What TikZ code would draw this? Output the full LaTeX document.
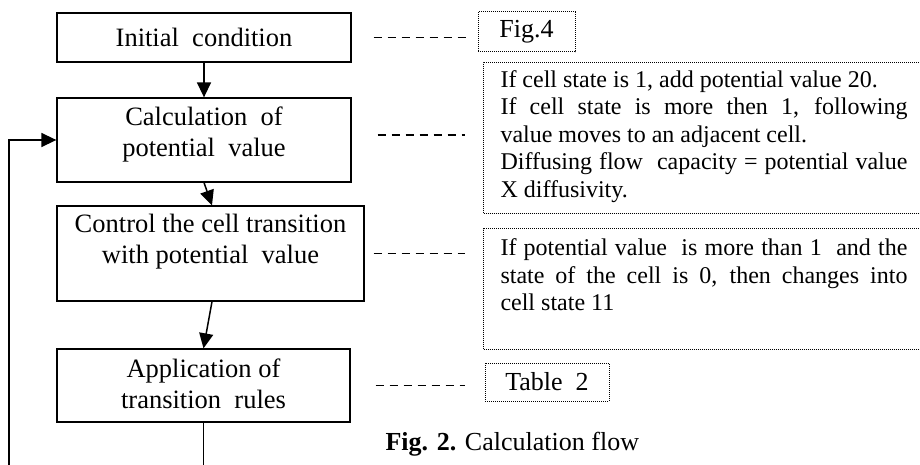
\documentclass[tikz,border=0pt]{standalone}
\usepackage{fontspec}
\setmainfont{Liberation Serif}
\usetikzlibrary{arrows.meta}
\tolerance=10000
\hbadness=10000

\begin{document}
\begin{tikzpicture}[x=1pt,y=-1pt,
  stepbox/.style={draw,line width=1.3pt,align=center,inner sep=0pt,font=\fontsize{26.5}{31}\selectfont},
  notebox/.style={draw,line width=1pt,dash pattern=on 1pt off 1pt,inner sep=0pt,font=\fontsize{26}{30}\selectfont},
  ruletext/.style={notebox,anchor=north west,inner xsep=17pt,text width=407pt,align=justify,font=\fontsize{24}{27.5}\selectfont},
  flow/.style={line width=1.5pt,-{Triangle[length=15pt,width=14pt]}},
  leader/.style={line width=1.5pt,dash pattern=on 8pt off 6pt}]

\useasboundingbox (0,0) rectangle (920,465);

%flow boxes
\node[stepbox,minimum width=294pt,minimum height=49pt] (init) at (204,37.5) {Initial~~condition};
\node[stepbox,minimum width=294pt,text height=59pt,text depth=25pt] (calc) at (204,140) {Calculation~~of\\potential~~value};
\node[stepbox,minimum width=307pt,text height=57pt,text depth=38pt] (ctrl) at (210.5,253.5) {Control the cell transition\\with potential~~value};
\node[stepbox,minimum width=293pt,text height=59pt,text depth=14pt] (appl) at (203.5,385.5) {Application of\\transition~~rules};

%arrows
\draw[flow] (init) -- (calc);
\draw[flow] (calc.south) -- ([xshift=1.5pt]ctrl.north);
\draw[flow] ([xshift=1.5pt]ctrl.south) -- (appl.north);
\coordinate (loop) at (9,465);
\draw[line width=1.5pt] (appl.south) -- (appl.south |- loop);
\draw[flow] (loop) |- (calc.west); %back loop

%notes on the right
\node[notebox,minimum width=97pt,minimum height=40pt] (fig) at (526.5,32) {Fig.4};
\node[ruletext,text height=25pt,text depth=126pt] (pot) at (483,62) {If cell state is 1, add potential value 20.\par
If cell state is more then 1, following \linebreak value moves to an adjacent cell.\par
Diffusing flow~~capacity = potential value \linebreak X diffusivity.};
\node[ruletext,text height=27pt,text depth=94pt] (trans) at (483,228) {If potential value~~is more than 1~~and the \linebreak state of the cell is 0, then changes into \linebreak cell state 11};
\node[notebox,minimum width=124pt,minimum height=38pt] (tab) at (547,382) {Table~~2};

%dashed leaders
\coordinate (r2) at ([yshift=5pt]calc.east);
\draw[leader,shorten <=22pt,shorten >=12pt] (init.east) -- (init.east -| fig.west);
\draw[leader,shorten <=26pt,shorten >=18pt] (r2) -- (r2 -| pot.west);
\draw[leader,shorten <=9pt,shorten >=18pt] (ctrl.east) -- (ctrl.east -| trans.west);
\draw[leader,shorten <=25pt,shorten >=20pt] (appl.east) -- (appl.east -| tab.west);

\node[anchor=base west,font=\fontsize{26}{30}\selectfont] (cap) at (382,450) {\textbf{Fig. 2.} Calculation flow};

\end{tikzpicture}
\end{document}
